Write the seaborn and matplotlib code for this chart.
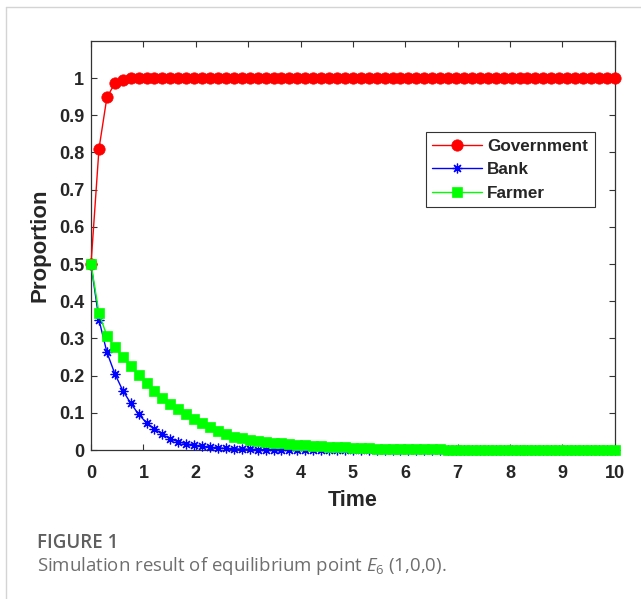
import matplotlib.pyplot as plt
import seaborn as sns
from matplotlib.lines import Line2D

time = [0.000, 0.152, 0.303, 0.455, 0.606, 0.758, 0.909, 1.061, 1.212, 1.364,
        1.515, 1.667, 1.818, 1.970, 2.121, 2.273, 2.424, 2.576, 2.727, 2.879,
        3.030, 3.182, 3.333, 3.485, 3.636, 3.788, 3.939, 4.091, 4.242, 4.394,
        4.545, 4.697, 4.848, 5.000, 5.152, 5.303, 5.455, 5.606, 5.758, 5.909,
        6.061, 6.212, 6.364, 6.515, 6.667, 6.818, 6.970, 7.121, 7.273, 7.424,
        7.576, 7.727, 7.879, 8.030, 8.182, 8.333, 8.485, 8.636, 8.788, 8.939,
        9.091, 9.242, 9.394, 9.545, 9.697, 9.848, 10.000]

government = [0.5, 0.81, 0.948, 0.986, 0.996, 0.999, 1.0, 1.0, 1.0, 1.0,
              1.0, 1.0, 1.0, 1.0, 1.0, 1.0, 1.0, 1.0, 1.0, 1.0,
              1.0, 1.0, 1.0, 1.0, 1.0, 1.0, 1.0, 1.0, 1.0, 1.0,
              1.0, 1.0, 1.0, 1.0, 1.0, 1.0, 1.0, 1.0, 1.0, 1.0,
              1.0, 1.0, 1.0, 1.0, 1.0, 1.0, 1.0, 1.0, 1.0, 1.0,
              1.0, 1.0, 1.0, 1.0, 1.0, 1.0, 1.0, 1.0, 1.0, 1.0,
              1.0, 1.0, 1.0, 1.0, 1.0, 1.0, 1.0]

bank = [0.5, 0.35, 0.263, 0.205, 0.160, 0.126, 0.096, 0.073, 0.057, 0.042,
        0.030, 0.022, 0.017, 0.013, 0.0098, 0.0075, 0.0057, 0.0043, 0.0033, 0.0025,
        0.0019, 0.0014, 0.0011, 0.0008, 0.0006, 0.0005, 0.0004, 0.0003, 0.0002, 0.0002,
        0.0001, 0.0001, 0.0001, 0.0, 0.0, 0.0, 0.0, 0.0, 0.0, 0.0,
        0.0, 0.0, 0.0, 0.0, 0.0, 0.0, 0.0, 0.0, 0.0, 0.0,
        0.0, 0.0, 0.0, 0.0, 0.0, 0.0, 0.0, 0.0, 0.0, 0.0,
        0.0, 0.0, 0.0, 0.0, 0.0, 0.0, 0.0]

farmer = [0.5, 0.368, 0.307, 0.276, 0.249, 0.225, 0.202, 0.180, 0.159, 0.141,
          0.124, 0.110, 0.096, 0.084, 0.072, 0.061, 0.051, 0.044, 0.036, 0.032,
          0.028, 0.025, 0.022, 0.020, 0.018, 0.016, 0.014, 0.0125, 0.011, 0.0098,
          0.0087, 0.0077, 0.0068, 0.0060, 0.0053, 0.0047, 0.0041, 0.0036, 0.0032, 0.0028,
          0.0025, 0.0022, 0.0019, 0.0017, 0.0015, 0.0013, 0.0011, 0.0010, 0.0009, 0.0008,
          0.0007, 0.0006, 0.0005, 0.0004, 0.0004, 0.0003, 0.0003, 0.0002, 0.0002, 0.0002,
          0.0001, 0.0001, 0.0001, 0.0001, 0.0001, 0.0001, 0.0001]

series = ["Government", "Bank", "Farmer"]
xticks = [0, 1, 2, 3, 4, 5, 6, 7, 8, 9, 10]
yticks = [0, 0.1, 0.2, 0.3, 0.4, 0.5, 0.6, 0.7, 0.8, 0.9, 1]

sns.set_style("ticks")
plt.rcParams["font.family"] = ["Liberation Sans", "DejaVu Sans"]
plt.rcParams["mathtext.fontset"] = "custom"
plt.rcParams["mathtext.it"] = "Open Sans:italic"
plt.rcParams["mathtext.rm"] = "Open Sans"

fig = plt.figure(figsize=(6.41, 5.99), dpi=100)
ax = fig.add_axes([0.142, 0.2487, 0.817, 0.683])

styles = {
    "Government": dict(color="#ff0000", marker="o", markersize=8.2),
    "Bank": dict(color="#0000ff", marker=(8, 2, 0), markersize=7, markeredgewidth=0.9),
    "Farmer": dict(color="#00ff00", marker="s", markersize=7),
}
values = {"Government": government, "Bank": bank, "Farmer": farmer}

for name in series:
    st = styles[name]
    sns.lineplot(x=time, y=values[name], ax=ax, color=st["color"], linewidth=1,
                 marker=st["marker"], markersize=st["markersize"],
                 markeredgecolor=st["color"], markerfacecolor=st["color"],
                 markeredgewidth=st.get("markeredgewidth", 0.5), label=name,
                 clip_on=False, zorder=3)

ax.set_xlim(0, 10)
ax.set_ylim(0, 1.1)
ax.set_xticks(xticks)
ax.set_yticks(yticks)
ax.set_xticklabels([str(v) for v in xticks], fontsize=13, fontweight="bold")
ax.set_yticklabels(["0" if v == 0 else ("1" if v == 1 else f"{v:.1f}") for v in yticks],
                   fontsize=13, fontweight="bold")
ax.tick_params(direction="in", length=4, width=0.8, color="#333333",
               top=True, right=True)
ax.tick_params(axis="x", pad=10.5)
ax.tick_params(axis="y", pad=5)
for sp in ax.spines.values():
    sp.set_visible(True)
    sp.set_color("#333333")
    sp.set_linewidth(0.9)

ax.set_xlabel("Time", fontsize=15.5, fontweight="bold", labelpad=6)
ax.set_ylabel("Proportion", fontsize=16, fontweight="bold", labelpad=6)

handles = []
for n in series:
    st = styles[n]
    handles.append(Line2D([], [], color=st["color"], lw=1, marker=st["marker"],
                          markersize=st["markersize"], markerfacecolor=st["color"],
                          markeredgecolor=st["color"],
                          markeredgewidth=st.get("markeredgewidth", 0.5)))
leg = ax.legend(handles, series, loc="upper right", bbox_to_anchor=(0.962, 0.778),
                borderaxespad=0, fancybox=False, framealpha=1, edgecolor="#333333",
                prop={"weight": "bold", "size": 12.3}, handlelength=2.9,
                labelspacing=0.5, borderpad=0.4, handletextpad=0.3)
leg.get_frame().set_linewidth(0.8)

fig.text(37 / 641, 1 - 543.5 / 599, "FIGURE 1", fontsize=13.5, color="#5f5f5f",
         family="Open Sans", fontweight="semibold", va="center")
fig.text(37 / 641, 1 - 566 / 599, "Simulation result of equilibrium point $E_6$ (1,0,0).",
         fontsize=13.4, color="#6e6e6e", family="Open Sans", va="center")

fig.add_artist(Line2D([6 / 641, 1], [1 - 7 / 599, 1 - 7 / 599], color="#d4d4d4", lw=1))
fig.add_artist(Line2D([6 / 641, 6 / 641], [0, 1 - 7 / 599], color="#d4d4d4", lw=1))

fig.savefig("out.png", dpi=100)
